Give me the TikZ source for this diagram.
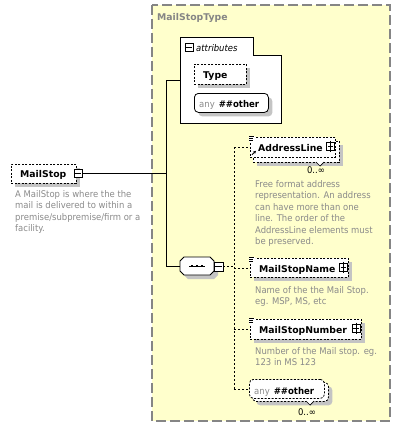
\documentclass[tikz,border=0pt]{standalone}
\usepackage{fontspec}
\setmainfont{DejaVu Sans}
\newfontfamily\descfont{DejaVu Sans}[FakeStretch=0.92]
\usetikzlibrary{shadows,arrows.meta}
\definecolor{ybg}{HTML}{FFFFCC}
\definecolor{frame}{HTML}{858585}
\definecolor{shad}{HTML}{C4C4C4}
\definecolor{dtext}{HTML}{8A8A8A}
\newcommand{\labf}{\fontsize{9.3}{11}\selectfont\bfseries}
\newcommand{\descf}{\descfont\fontsize{9.2}{11.4}\selectfont}
\tikzset{
  shd/.style={drop shadow={shadow xshift=4pt, shadow yshift=-4pt, fill=shad, opacity=1}},
  ebox/.style={draw=black, fill=white, line width=0.8pt, dash pattern=on 2pt off 1.5pt, inner sep=0pt, anchor=north west},
  sbox/.style={draw=black, fill=white, line width=0.8pt, inner sep=0pt},
  conn/.style={line width=0.8pt, dash pattern=on 2pt off 2pt},
  solidc/.style={line width=0.9pt},
  lab/.style={font=\labf, inner sep=0pt, anchor=base west},
  desc/.style={font=\descf, text=dtext, inner sep=0pt, anchor=base west},
  card/.style={font=\descf, inner sep=0pt, anchor=base},
  pm/.style={draw=black, fill=white, line width=0.7pt, minimum size=8pt, inner sep=0pt}
}
\begin{document}
\begin{tikzpicture}[x=1pt,y=-1pt]
\useasboundingbox (0,0) rectangle (400,436);
% complex type frame
\draw[frame, fill=ybg, line width=1.3pt, dash pattern=on 10pt off 4pt] (152,5) rectangle (390,421);
\node[lab, text=frame] (mst) at (157,21) {MailStopType};

% attributes group
\draw[fill=white, line width=0.9pt] (180,37) -- (253,37) -- (253,55) -- (281,55) -- (281,123) -- (180,123) -- cycle;
\coordinate (attrL) at (180,80);
\node[pm] (attrminus) at (189,47.5) {};
\draw[line width=0.7pt] ([xshift=1.5pt]attrminus.west) -- ([xshift=-1.5pt]attrminus.east);
\node[lab, font=\descf\itshape] (attrlab) at (196,51.5) {attributes};

\node[ebox, shd, minimum width=52pt, minimum height=20pt] (type) at (194,64) {};
\node[lab] (typelab) at (203,78) {Type};

\node[sbox, shd, rounded corners=4pt, minimum width=74pt, minimum height=19pt, anchor=north west] (anyattr) at (194,93) {};
\node[lab] (anyattrlab) at (199,107) {\mdseries\descf\textcolor{dtext}{any}\hspace{4pt}\labf\#\#other};

% root element
\node[ebox, shd, minimum width=65pt, minimum height=19pt] (ms) at (11,164) {};
\node[lab] (mslab) at (20,177.5) {MailStop};
\node[pm] (msminus) at (78,173.5) {};
\draw[line width=0.7pt] ([xshift=1.5pt]msminus.west) -- ([xshift=-1.5pt]msminus.east);
\foreach \t [count=\i] in {A MailStop is where the the, mail is delivered to within a, premise/subpremise/firm or a, facility.}
  \node[desc] (msdesc\i) at (15,{197.5+11.4*(\i-1)}) {\t};

% solid connectors
\coordinate (v1) at (166,173.5);
\coordinate (v2) at (166,80);
\coordinate (v3) at (166,266);
\coordinate (seqL) at (180,266);
\draw[solidc] (msminus.east) -- (v1);
\draw[solidc] (v2) -- (v3);
\draw[solidc] (v2) -- (attrL);
\draw[solidc] (v3) -- (seqL);

% sequence compositor
\fill[shad] (188,261) -- (214,261) -- (218,265) -- (218,275) -- (214,279) -- (188,279) -- (184,275) -- (184,265) -- cycle;
\draw[fill=white, line width=0.9pt] (184,257) -- (210,257) -- (214,261) -- (214,271) -- (210,275) -- (184,275) -- (180,271) -- (180,261) -- cycle;
\node[inner sep=0pt, minimum width=34pt, minimum height=18pt, anchor=west] (seq) at (180,266) {};
\draw[line width=0.7pt] (189,266) -- (205,266);
\fill (191,264.9) rectangle (193.2,267.1);
\fill (195.9,264.9) rectangle (198.1,267.1);
\fill (200.8,264.9) rectangle (203,267.1);
\node[pm, minimum size=9pt] (seqminus) at (218.5,266.5) {};
\draw[line width=0.7pt] ([xshift=1.5pt]seqminus.west) -- ([xshift=-1.5pt]seqminus.east);

% AddressLine (0..unbounded)
\node[ebox, shd, minimum width=86pt, minimum height=21pt] (alb) at (253,141) {};
\node[ebox, minimum width=85pt, minimum height=20pt] (al) at (250,137) {};
\node[lab] (allab) at (258,151) {AddressLine};
\node[pm] (alplus) at (330.5,146.5) {};
\draw[line width=0.7pt] ([xshift=1.5pt]alplus.west) -- ([xshift=-1.5pt]alplus.east);
\draw[line width=0.7pt] ([yshift=1.5pt]alplus.north) -- ([yshift=-1.5pt]alplus.south);
\draw[fill=white, line width=0.7pt] (316,162) -- (320,166) -- (324,162);
\node[card] (alcard) at (316,173.5) {0..∞};
\foreach \t [count=\i] in {Free format address, representation. An address, can have more than one, line. The order of the, AddressLine elements must, be preserved.}
  \node[desc] (aldesc\i) at (255,{187.5+11.4*(\i-1)}) {\t};

% MailStopName
\node[ebox, shd, minimum width=98pt, minimum height=19pt] (msn) at (250,258) {};
\node[lab] (msnlab) at (259,272) {MailStopName};
\node[pm] (msnplus) at (343.5,267.5) {};
\draw[line width=0.7pt] ([xshift=1.5pt]msnplus.west) -- ([xshift=-1.5pt]msnplus.east);
\draw[line width=0.7pt] ([yshift=1.5pt]msnplus.north) -- ([yshift=-1.5pt]msnplus.south);
\foreach \t [count=\i] in {Name of the the Mail Stop., {eg. MSP, MS, etc}}
  \node[desc] (msndesc\i) at (255,{293.3+11.2*(\i-1)}) {\t};

% MailStopNumber
\node[ebox, shd, minimum width=111pt, minimum height=20pt] (msnum) at (250,319) {};
\node[lab] (msnumlab) at (259,333.3) {MailStopNumber};
\node[pm] (msnumplus) at (356,328.5) {};
\draw[line width=0.7pt] ([xshift=1.5pt]msnumplus.west) -- ([xshift=-1.5pt]msnumplus.east);
\draw[line width=0.7pt] ([yshift=1.5pt]msnumplus.north) -- ([yshift=-1.5pt]msnumplus.south);
\foreach \t [count=\i] in {Number of the Mail stop. eg., 123 in MS 123}
  \node[desc] (msnumdesc\i) at (255,{354+11.2*(\i-1)}) {\t};

% any ##other (0..unbounded)
\node[ebox, shd, rounded corners=4pt, minimum width=76pt, minimum height=19pt] (anyb) at (252,382) {};
\node[ebox, rounded corners=4pt, minimum width=75pt, minimum height=19pt] (anyel) at (249,379) {};
\node[lab] (anylab) at (254,394) {\mdseries\descf\textcolor{dtext}{any}\hspace{4pt}\labf\#\#other};
\draw[fill=white, line width=0.7pt] (306,401) -- (310,405) -- (314,401);
\node[card] (anycard) at (307,415.5) {0..∞};

% icons
\foreach \n in {al,msn,msnum} {
  \fill[white] ([xshift=-1.5pt,yshift=1.5pt]\n.north west) rectangle ([xshift=5pt,yshift=-5pt]\n.north west);
  \draw[line width=0.6pt] ([xshift=-1pt,yshift=1pt]\n.north west) -- ++(5pt,0);
  \draw[line width=0.6pt] ([xshift=-1pt,yshift=-1pt]\n.north west) -- ++(4pt,0);
  \draw[line width=0.6pt] ([xshift=-1pt,yshift=-3pt]\n.north west) -- ++(4pt,0);
}
\draw[-{Stealth[length=3pt,width=3pt]}, line width=0.8pt] ([xshift=2pt,yshift=3pt]al.south west) -- ([xshift=6pt,yshift=7pt]al.south west);

% dashed connectors of the sequence
\coordinate (d0) at (234,266.5);
\draw[conn] (seqminus.east) -- (d0);
\draw[conn] (al.west -| d0) -- (anyel.west -| d0);
\draw[conn] (al.west -| d0) -- (al.west);
\draw[conn] (msn.west -| d0) -- (msn.west);
\draw[conn] (msnum.west -| d0) -- (msnum.west);
\draw[conn] (anyel.west -| d0) -- (anyel.west);
\end{tikzpicture}
\end{document}
